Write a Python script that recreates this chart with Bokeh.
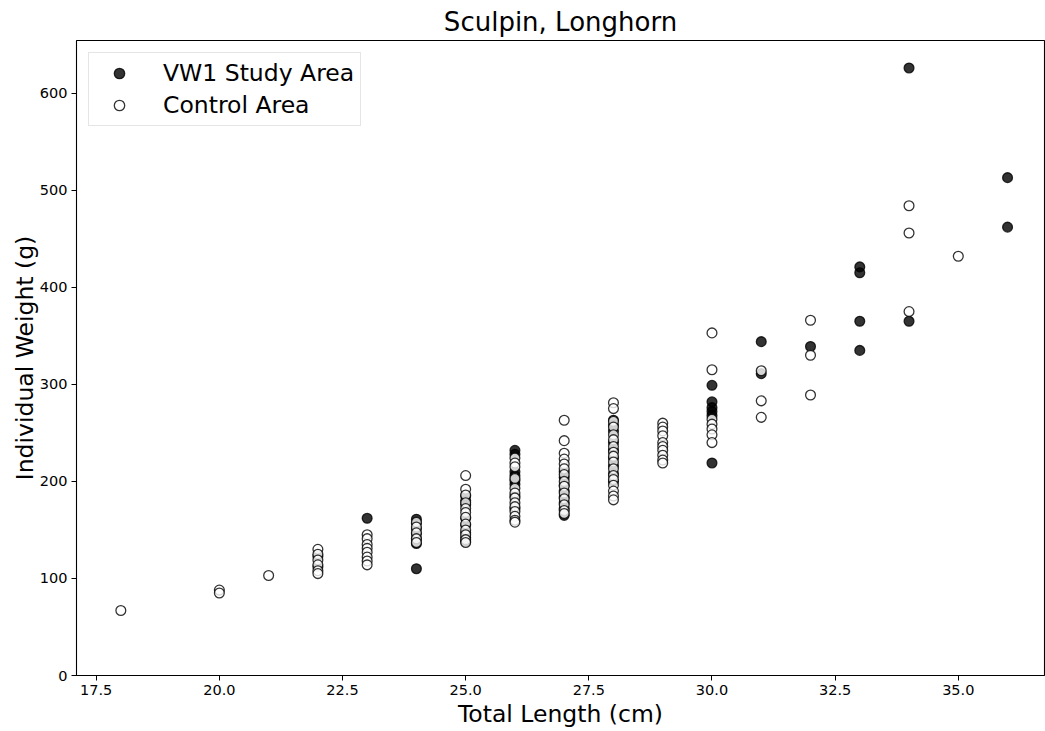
from bokeh.plotting import figure
from bokeh.models import FixedTicker, PrintfTickFormatter, Range1d, Legend, LegendItem
from bokeh.embed import file_html
from bokeh.resources import INLINE

# Longhorn sculpin catches: total length (cm) vs individual weight (g)
vw1_length = [22, 22,
              23,
              24, 24, 24, 24, 24, 24, 24,
              25, 25, 25, 25, 25, 25, 25, 25,
              26, 26, 26, 26, 26, 26, 26, 26,
              27, 27, 27, 27, 27, 27, 27, 27,
              28, 28, 28, 28, 28, 28, 28, 28, 28,
              30, 30, 30, 30, 30, 30,
              31, 31,
              32,
              33, 33, 33, 33,
              34, 34,
              36, 36]
vw1_weight = [123, 112,
              162,
              161, 157, 151, 146, 141, 136, 110,
              185, 180, 176, 162, 155, 147, 142, 138,
              232, 228, 210, 206, 201, 197, 185, 172,
              210, 204, 196, 190, 184, 178, 172, 165,
              263, 258, 252, 240, 232, 224, 216, 208, 200,
              299, 282, 276, 272, 268, 219,
              344, 311,
              339,
              421, 415, 365, 335,
              626, 365,
              513, 462]

ctrl_length = [18,
               20, 20,
               21,
               22, 22, 22, 22, 22, 22,
               23, 23, 23, 23, 23, 23, 23, 23,
               24, 24, 24, 24, 24,
               25, 25, 25, 25, 25, 25, 25, 25, 25, 25, 25, 25,
               26, 26, 26, 26, 26, 26, 26, 26, 26, 26, 26, 26, 26,
               27, 27, 27, 27, 27, 27, 27, 27, 27, 27, 27, 27, 27, 27,
               28, 28, 28, 28, 28, 28, 28, 28, 28, 28, 28, 28, 28, 28, 28, 28, 28,
               29, 29, 29, 29, 29, 29, 29, 29, 29, 29,
               30, 30, 30, 30, 30, 30, 30,
               31, 31, 31,
               32, 32, 32,
               34, 34, 34,
               35]
ctrl_weight = [67,
               88, 85,
               103,
               130, 125, 119, 114, 108, 105,
               145, 141, 135, 131, 127, 122, 118, 114,
               158, 153, 147, 141, 137,
               206, 192, 186, 178, 172, 168, 163, 156, 150, 145, 140, 137,
               224, 219, 215, 203, 193, 188, 183, 178, 174, 169, 164, 160, 158,
               263, 242, 229, 223, 218, 213, 207, 200, 195, 188, 182, 176, 170, 167,
               281, 275, 262, 256, 248, 243, 236, 230, 226, 220, 213, 206, 202, 196, 190, 185, 181,
               260, 256, 252, 247, 240, 236, 232, 227, 222, 219,
               353, 315, 264, 259, 254, 248, 240,
               314, 283, 266,
               366, 330, 289,
               484, 456, 375,
               432]

x_ticks = [17.5, 20.0, 22.5, 25.0, 27.5, 30.0, 32.5, 35.0]
y_ticks = [0, 100, 200, 300, 400, 500, 600]

FONT = "DejaVu Sans"

p = figure(width=1045, height=731, output_backend="svg", toolbar_location=None,
           x_range=Range1d(17.1, 36.75), y_range=Range1d(0, 654.3),
           min_border_left=76, min_border_right=1, min_border_top=40,
           min_border_bottom=56)

p.title.text = "Sculpin, Longhorn"
p.title.text_font = FONT
p.title.text_font_size = "26px"
p.title.text_font_style = "normal"
p.title.text_color = "black"
p.title.align = "center"
p.title.standoff = 8

p.xgrid.visible = False
p.ygrid.visible = False
p.outline_line_color = "black"
p.outline_line_width = 1.1
p.background_fill_color = "white"
p.border_fill_color = "white"

for ax in (p.xaxis[0], p.yaxis[0]):
    ax.axis_line_color = None
    ax.major_tick_out = 5
    ax.major_tick_in = 0
    ax.major_tick_line_color = "black"
    ax.minor_tick_line_color = None
    ax.major_label_text_font = FONT
    ax.major_label_text_font_size = "14.5px"
    ax.major_label_text_color = "black"
    ax.axis_label_text_font = FONT
    ax.axis_label_text_font_size = "23.5px"
    ax.axis_label_text_font_style = "normal"
    ax.axis_label_text_color = "black"

p.xaxis.ticker = FixedTicker(ticks=x_ticks)
p.xaxis.formatter = PrintfTickFormatter(format="%.1f")
p.xaxis.axis_label = "Total Length (cm)"
p.xaxis.major_label_standoff = 4
p.xaxis.axis_label_standoff = 2

p.yaxis.ticker = FixedTicker(ticks=y_ticks)
p.yaxis.axis_label = "Individual Weight (g)"
p.yaxis.major_label_standoff = 4
p.yaxis.axis_label_standoff = -2

vw1 = p.scatter(vw1_length, vw1_weight, size=9.8, marker="circle",
                fill_color="black", fill_alpha=0.8,
                line_color="black", line_alpha=0.8, line_width=1.3)
ctrl = p.scatter(ctrl_length, ctrl_weight, size=9.8, marker="circle",
                 fill_color="white", fill_alpha=0.8,
                 line_color="black", line_alpha=0.8, line_width=1.3)

legend = Legend(items=[LegendItem(label="VW1 Study Area", renderers=[vw1]),
                       LegendItem(label="Control Area", renderers=[ctrl])],
                location="top_left", margin=12, padding=6, spacing=4,
                glyph_width=48, glyph_height=26, label_height=26,
                label_standoff=20,
                label_text_font=FONT, label_text_font_size="23.5px",
                label_text_color="black",
                border_line_color="#cccccc", border_line_width=1,
                background_fill_color="white", background_fill_alpha=0.8)
p.add_layout(legend, "center")

open("out.html", "w").write(file_html(p, INLINE))
